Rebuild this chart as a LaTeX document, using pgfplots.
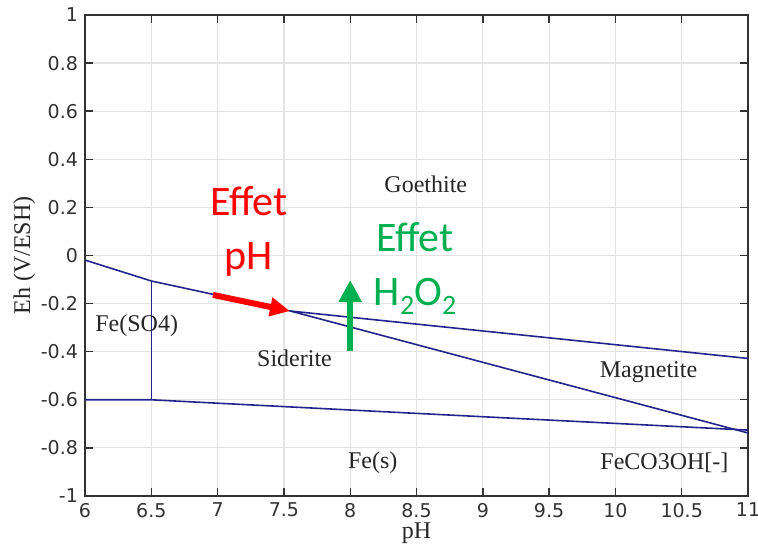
\documentclass[border=0pt]{standalone}
\usepackage{fontspec}
\setmainfont{Liberation Serif}
\newfontfamily\ticksf{DejaVu Sans}
\newfontfamily\calib{Carlito}
\usepackage{pgfplots}
\pgfplotsset{compat=1.18}
\usetikzlibrary{arrows.meta}
\definecolor{navy}{RGB}{35,35,140}
\definecolor{offgreen}{RGB}{0,176,80}
\definecolor{gridc}{RGB}{228,228,228}
\definecolor{axc}{RGB}{50,50,50}
\newcommand{\sub}[1]{\raisebox{-0.22em}{\fontsize{14}{16}\selectfont #1}}
\begin{document}
\begin{tikzpicture}
\begin{axis}[
  scale only axis,
  width=331.5pt, height=240.5pt,
  xmin=6, xmax=11, ymin=-1, ymax=1,
  xtick={6,6.5,...,11}, ytick={-1,-0.8,...,1},
  xticklabels={6,6.5,7,7.5,8,8.5,9,9.5,10,10.5,11},
  yticklabels={-1,-0.8,-0.6,-0.4,-0.2,0,0.2,0.4,0.6,0.8,1},
  grid=major,
  major grid style={gridc, line width=0.6pt},
  tick align=inside,
  major tick length=4pt,
  tick style={axc, line width=0.7pt},
  axis line style={axc, line width=0.9pt},
  ticklabel style={font=\ticksf\fontsize{9.5}{11}\selectfont, text=axc},
  xlabel={pH}, ylabel={Eh (V/ESH)},
  label style={font=\fontsize{12}{14}\selectfont, text=black!85},
  xlabel style={yshift=4pt},
  ylabel style={yshift=-4pt},
  clip=true,
]
% Goethite / Fe(SO4)+Siderite upper boundary
\addplot[navy, line width=0.8pt] coordinates {(6,-0.019) (6.5,-0.106) (7.55,-0.231) (11,-0.428)};
% Siderite / Magnetite
\addplot[navy, line width=0.8pt] coordinates {(7.55,-0.231) (11,-0.738)};
% Fe(s) boundary
\addplot[navy, line width=0.8pt] coordinates {(6,-0.6) (6.5,-0.6) (8.375,-0.653) (11,-0.726)};
% Fe(SO4) / Siderite vertical
\addplot[navy, line width=0.8pt] coordinates {(6.5,-0.106) (6.5,-0.6)};
% arrows
\addplot[red, line width=3pt, -{Triangle[length=10pt,width=9pt]}] coordinates {(6.965,-0.164) (7.546,-0.231)};
\addplot[offgreen, line width=3pt, -{Triangle[length=11pt,width=11pt]}] coordinates {(8.0,-0.397) (8.0,-0.102)};
% labels
\node[font=\fontsize{12}{14}\selectfont, text=black!85] at (axis cs:8.57,0.297) {Goethite};
\node[font=\fontsize{12}{14}\selectfont, text=black!85] at (axis cs:6.39,-0.293) {Fe(SO4)};
\node[font=\fontsize{12}{14}\selectfont, text=black!85] at (axis cs:7.58,-0.426) {Siderite};
\node[font=\fontsize{12}{14}\selectfont, text=black!85] at (axis cs:10.25,-0.485) {Magnetite};
\node[font=\fontsize{12}{14}\selectfont, text=black!85] at (axis cs:8.17,-0.863) {Fe(s)};
\node[font=\fontsize{12}{14}\selectfont, text=black!85] at (axis cs:10.37,-0.863) {FeCO3OH[-]};
\node[anchor=base, font=\calib\fontsize{21}{25}\selectfont, text=red, inner sep=0pt] at (axis cs:7.237,0.168) {Effet};
\node[anchor=base, font=\calib\fontsize{21}{25}\selectfont, text=red, inner sep=0pt] at (axis cs:7.237,-0.060) {pH};
\node[anchor=base, font=\calib\fontsize{21}{25}\selectfont, text=offgreen, inner sep=0pt] at (axis cs:8.489,0.0146) {Effet};
\node[anchor=base, font=\calib\fontsize{21}{25}\selectfont, text=offgreen, inner sep=0pt] at (axis cs:8.489,-0.206) {H\sub{2}O\sub{2}};
\end{axis}
\pgfresetboundingbox
\path[use as bounding box] ([shift={(-42.5pt,-29.5pt)}]current axis.south west) rectangle ([shift={(5pt,7.5pt)}]current axis.north east);
\end{tikzpicture}
\end{document}
